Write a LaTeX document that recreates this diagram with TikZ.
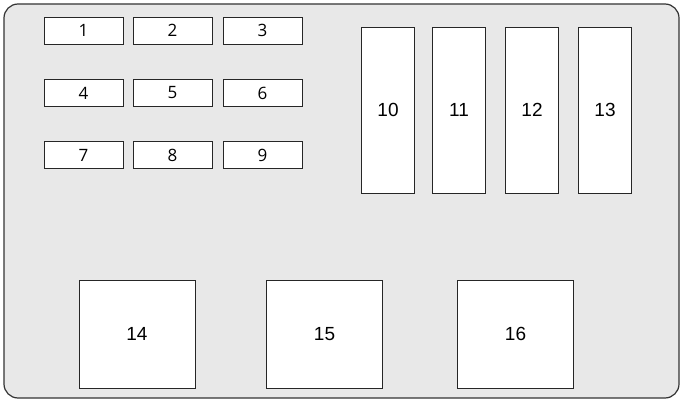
\documentclass[tikz,border=0pt]{standalone}
\usepackage{fontspec}
\setmainfont{Liberation Sans}
\newfontfamily\smallfont{Open Sans}

\begin{document}
\begin{tikzpicture}[x=1pt, y=-1pt,
    fuse/.style={draw=black!85, line width=0.9pt, fill=white, inner sep=0pt,
                 minimum width=79pt, minimum height=27pt,
                 font=\smallfont\fontsize{17}{17}\selectfont},
    tallfuse/.style={draw=black!85, line width=0.9pt, fill=white, inner sep=0pt,
                 minimum width=53pt, minimum height=166pt,
                 font=\fontsize{19}{19}\selectfont},
    relay/.style={draw=black!85, line width=0.9pt, fill=white, inner sep=0pt,
                 minimum width=116pt, minimum height=108pt,
                 font=\fontsize{19}{19}\selectfont}]

\useasboundingbox (0, 0) rectangle (683, 404);

% housing
\draw[draw=black!80, line width=1.2pt, fill=black!9, rounded corners=14pt]
    (4, 4) rectangle (679, 398);

% small fuses
\node[fuse] (f1) at (83.5, 30.5) {1};
\node[fuse] (f2) at (172.5, 30.5) {2};
\node[fuse] (f3) at (262.5, 30.5) {3};

\node[fuse] (f4) at (83.5, 93) {4};
\node[fuse] (f5) at (172.5, 93) {5};
\node[fuse] (f6) at (262.5, 93) {6};

\node[fuse] (f7) at (83.5, 155) {7};
\node[fuse] (f8) at (172.5, 155) {8};
\node[fuse] (f9) at (262.5, 155) {9};

% large fuses
\node[tallfuse] (f10) at (388, 110) {10};
\node[tallfuse] (f11) at (459, 110) {11};
\node[tallfuse] (f12) at (532, 110) {12};
\node[tallfuse] (f13) at (605, 110) {13};

% relays
\node[relay] (r14) at (137, 334) {14};
\node[relay] (r15) at (324.5, 334) {15};
\node[relay] (r16) at (515.5, 334) {16};

\end{tikzpicture}
\end{document}
